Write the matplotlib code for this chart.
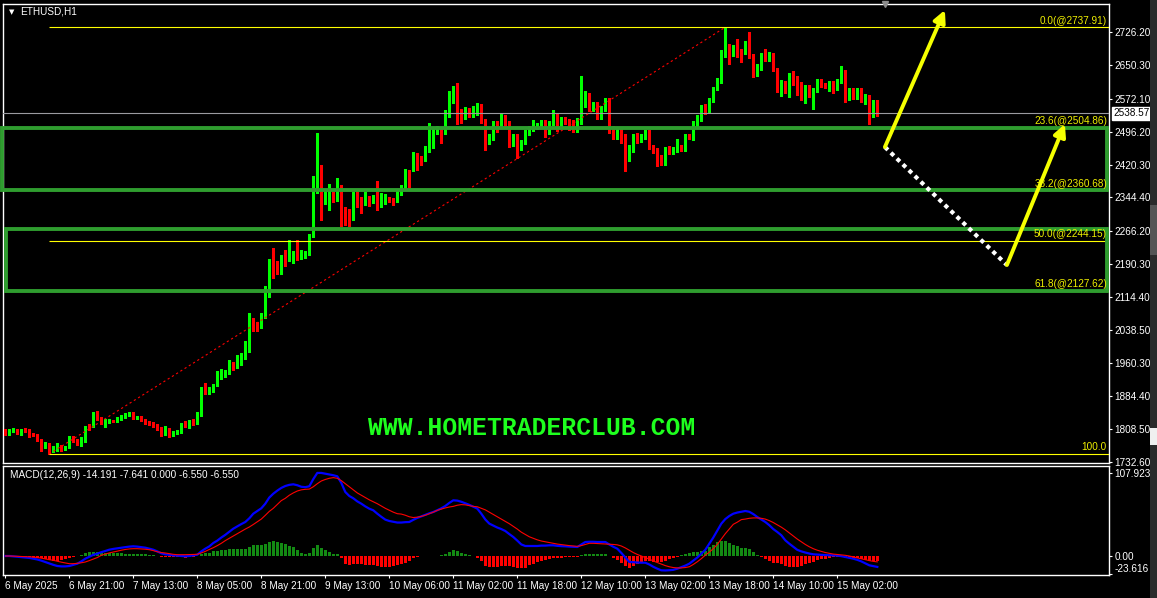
import numpy as np
import matplotlib
matplotlib.use("Agg")
import matplotlib.pyplot as plt
from matplotlib.patches import Rectangle, FancyArrowPatch

plt.rcParams['font.family'] = ['Liberation Sans', 'DejaVu Sans']

# ---------------- ETHUSD H1 price data ----------------
opens = [
    1806, 1799, 1805, 1807, 1797, 1807, 1806, 1799, 1795, 1783,
    1768, 1774, 1757, 1766, 1769, 1761, 1767, 1790, 1782, 1775,
    1780, 1817, 1816, 1843, 1833, 1824, 1824, 1829, 1826, 1832,
    1836, 1840, 1845, 1834, 1837, 1829, 1825, 1822, 1817, 1809,
    1797, 1808, 1795, 1798, 1802, 1824, 1813, 1829, 1822, 1840,
    1901, 1890, 1895, 1909, 1927, 1932, 1938, 1962, 1955, 1959,
    1975, 1989, 2052, 2050, 2045, 2066, 2118, 2184, 2181, 2180,
    2208, 2200, 2206, 2218, 2205, 2214, 2214, 2257, 2362, 2412,
    2339, 2348, 2352, 2338, 2371, 2308, 2304, 2296, 2350, 2341,
    2332, 2338, 2335, 2346, 2325, 2335, 2344, 2340, 2337, 2354,
    2366, 2402, 2408, 2441, 2438, 2431, 2458, 2462, 2495, 2501,
    2493, 2533, 2578, 2586, 2545, 2532, 2545, 2536, 2544, 2557,
    2522, 2474, 2480, 2518, 2510, 2532, 2518, 2468, 2487, 2461,
    2472, 2492, 2503, 2508, 2510, 2520, 2496, 2516, 2533, 2509,
    2524, 2522, 2520, 2499, 2518, 2555, 2582, 2548, 2563, 2528,
    2550, 2559, 2499, 2485, 2500, 2476, 2433, 2460, 2487, 2478,
    2485, 2497, 2463, 2454, 2440, 2424, 2458, 2448, 2453, 2462,
    2456, 2487, 2484, 2512, 2524, 2551, 2543, 2570, 2597, 2611,
    2671, 2693, 2689, 2693, 2682, 2680, 2698, 2672, 2639, 2646,
    2675, 2673, 2675, 2641, 2598, 2611, 2594, 2627, 2613, 2608,
    2583, 2599, 2592, 2591, 2615, 2607, 2598, 2609, 2596, 2613,
    2634, 2577, 2594, 2575, 2595, 2567, 2577, 2532, 2567,
]
highs = [
    1809, 1808, 1811, 1809, 1808, 1810, 1808, 1800, 1797, 1785,
    1778, 1776, 1769, 1777, 1771, 1770, 1791, 1793, 1784, 1790,
    1815, 1819, 1847, 1851, 1835, 1831, 1832, 1830, 1835, 1841,
    1845, 1848, 1847, 1839, 1839, 1831, 1827, 1824, 1819, 1812,
    1816, 1810, 1804, 1807, 1822, 1826, 1830, 1831, 1847, 1906,
    1915, 1905, 1913, 1943, 1946, 1944, 1969, 1964, 1979, 1985,
    2011, 2076, 2066, 2057, 2076, 2140, 2202, 2227, 2196, 2212,
    2222, 2245, 2220, 2245, 2222, 2220, 2260, 2393, 2493, 2420,
    2358, 2376, 2356, 2389, 2374, 2322, 2318, 2356, 2361, 2346,
    2357, 2348, 2350, 2383, 2354, 2352, 2346, 2342, 2358, 2374,
    2410, 2407, 2450, 2446, 2441, 2464, 2516, 2508, 2510, 2505,
    2546, 2590, 2603, 2608, 2549, 2553, 2552, 2556, 2563, 2560,
    2526, 2490, 2522, 2522, 2537, 2536, 2521, 2492, 2490, 2478,
    2500, 2510, 2524, 2517, 2524, 2523, 2520, 2547, 2537, 2530,
    2530, 2526, 2524, 2527, 2626, 2590, 2586, 2566, 2566, 2556,
    2575, 2574, 2510, 2504, 2505, 2490, 2465, 2492, 2493, 2490,
    2500, 2500, 2466, 2458, 2443, 2460, 2462, 2460, 2480, 2465,
    2490, 2490, 2520, 2535, 2557, 2560, 2575, 2600, 2620, 2685,
    2737.91, 2698, 2697, 2710, 2688, 2705, 2726, 2675, 2653, 2678,
    2688, 2680, 2678, 2644, 2616, 2614, 2632, 2637, 2624, 2612,
    2605, 2605, 2597, 2618, 2619, 2608, 2613, 2613, 2618, 2649,
    2638, 2598, 2598, 2598, 2598, 2583, 2580, 2570, 2570,
]
lows = [
    1794, 1795, 1802, 1796, 1795, 1801, 1789, 1792, 1780, 1757,
    1765, 1750.39, 1754, 1758, 1758, 1759, 1765, 1779, 1771, 1768,
    1778, 1807, 1814, 1829, 1821, 1813, 1822, 1825, 1824, 1830,
    1834, 1838, 1831, 1832, 1826, 1820, 1818, 1812, 1805, 1793,
    1795, 1790, 1792, 1796, 1800, 1813, 1810, 1817, 1820, 1838,
    1890, 1889, 1893, 1907, 1925, 1929, 1936, 1944, 1950, 1957,
    1970, 1987, 2035, 2035, 2042, 2064, 2113, 2158, 2167, 2167,
    2185, 2196, 2193, 2200, 2202, 2205, 2211, 2253, 2355, 2292,
    2330, 2315, 2333, 2335, 2277, 2280, 2278, 2292, 2323, 2309,
    2327, 2325, 2332, 2316, 2322, 2330, 2333, 2326, 2334, 2350,
    2363, 2364, 2405, 2408, 2420, 2428, 2450, 2458, 2491, 2470,
    2490, 2530, 2563, 2513, 2516, 2525, 2530, 2530, 2535, 2517,
    2455, 2468, 2476, 2495, 2505, 2510, 2460, 2462, 2435, 2455,
    2468, 2488, 2498, 2503, 2506, 2484, 2492, 2512, 2497, 2505,
    2515, 2500, 2495, 2495, 2515, 2553, 2543, 2543, 2525, 2525,
    2545, 2494, 2480, 2480, 2470, 2406, 2428, 2450, 2470, 2472,
    2480, 2457, 2446, 2416, 2418, 2420, 2444, 2445, 2450, 2452,
    2452, 2480, 2478, 2508, 2520, 2538, 2540, 2566, 2593, 2608,
    2668, 2654, 2671, 2670, 2657, 2675, 2667, 2622, 2624, 2640,
    2660, 2660, 2637, 2588, 2578, 2586, 2577, 2604, 2580, 2570,
    2562, 2576, 2548, 2588, 2600, 2598, 2590, 2585, 2592, 2610,
    2566, 2570, 2572, 2571, 2564, 2560, 2515, 2530, 2533,
]
closes = [
    1797, 1806, 1807, 1797, 1807, 1805, 1799, 1795, 1783, 1768,
    1775, 1756, 1767, 1769, 1761, 1767, 1789, 1781, 1774, 1780,
    1812, 1810, 1845, 1832, 1824, 1827, 1830, 1827, 1833, 1839,
    1843, 1845, 1833, 1837, 1828, 1825, 1822, 1816, 1808, 1797,
    1808, 1795, 1801, 1805, 1820, 1816, 1828, 1820, 1843, 1901,
    1894, 1897, 1911, 1930, 1935, 1942, 1962, 1954, 1961, 1979,
    1990, 2052, 2046, 2043, 2068, 2118, 2188, 2178, 2178, 2209,
    2199, 2207, 2218, 2206, 2213, 2217, 2257, 2362, 2412, 2340,
    2348, 2352, 2338, 2371, 2304, 2300, 2298, 2350, 2338, 2332,
    2342, 2335, 2346, 2325, 2336, 2344, 2340, 2337, 2355, 2369,
    2402, 2381, 2439, 2435, 2431, 2462, 2464, 2497, 2501, 2492,
    2536, 2581, 2586, 2543, 2530, 2545, 2540, 2547, 2557, 2520,
    2474, 2483, 2518, 2510, 2532, 2516, 2468, 2487, 2461, 2474,
    2495, 2505, 2512, 2512, 2520, 2495, 2518, 2533, 2509, 2524,
    2520, 2516, 2499, 2520, 2557, 2582, 2547, 2563, 2528, 2551,
    2559, 2497, 2484, 2500, 2474, 2433, 2461, 2487, 2478, 2487,
    2497, 2461, 2453, 2439, 2424, 2456, 2448, 2456, 2462, 2456,
    2487, 2484, 2515, 2528, 2551, 2543, 2570, 2598, 2613, 2673,
    2693, 2688, 2693, 2679, 2679, 2698, 2670, 2639, 2648, 2675,
    2673, 2676, 2640, 2598, 2611, 2594, 2627, 2613, 2603, 2582,
    2599, 2590, 2594, 2615, 2603, 2602, 2609, 2598, 2613, 2634,
    2577, 2594, 2575, 2594, 2567, 2577, 2532, 2567, 2538.57,
]

# MACD(12,26,9) main and signal lines
macd_main = [
    0, 0, -0.5, -1, -1.5, -2, -2.5, -3.5, -4.5, -6,
    -7.8, -9.5, -11.5, -13, -13.5, -13.5, -13, -11.5, -10, -7,
    -3.5, -1, 1.5, 3, 5, 6.5, 8.2, 9.2, 10, 10.8,
    11.5, 12.2, 12.6, 12.2, 11.5, 10.8, 9.5, 8.2, 6, 3.5,
    2.2, 1.5, 0.9, 0.5, 0.2, -0.4, 0, 0.8, 1.7, 6,
    9.5, 12.5, 16.9, 20, 24, 27.5, 31.5, 35.5, 38.5, 41.5,
    44.2, 49, 55, 58.5, 62, 68, 76, 81, 85, 88.5,
    91, 92.5, 93.2, 92, 90, 89.5, 90.6, 100, 108, 108,
    107, 106, 105, 103.6, 95, 83.2, 78, 75, 71, 68,
    64.5, 61.5, 59.4, 55, 51, 47.3, 45.5, 44.5, 43.5, 43.5,
    44, 44.2, 47, 49.5, 51.5, 53.5, 55.5, 57.2, 59.5, 62,
    65, 69, 72.4, 72, 70.5, 68.5, 66.5, 64, 61.6, 55,
    47.5, 42.1, 39.5, 37, 35, 32.5, 28.5, 24.7, 20, 15,
    13, 13, 13, 13, 13.5, 13.5, 13.9, 13.9, 13.2, 12.8,
    12.6, 12.2, 12, 11.7, 15, 18.2, 18.5, 18.5, 18.2, 18.2,
    18.2, 15, 12, 9.5, 4, -2, -7.8, -8, -8.5, -8.7,
    -8.7, -11, -14, -16.5, -18.6, -18.8, -18.5, -18, -16.5, -14.5,
    -12.5, -10, -6, -2, 3, 8, 16.1, 24, 33, 42,
    48, 52, 55, 56.5, 57.5, 58.5, 57.5, 54.5, 50.7, 47.5,
    44.2, 40, 35, 31.2, 27, 20.4, 16, 12, 8, 6,
    4.5, 3.2, 2.2, 1.8, 1.5, 1.2, 1, 0.9, 0.5, -0.2,
    -1.3, -2.3, -3.5, -5, -7, -9.5, -12.1, -13.2, -14.191,
]
macd_signal = [
    0, 0, -0.2, -0.4, -0.6, -0.8, -1, -1.3, -2, -2.8,
    -3.8, -4.8, -5.6, -6.8, -8, -9, -10, -10, -9.5, -8.8,
    -7.8, -6, -4, -2, 0.9, 2.5, 4, 5.2, 6.5, 7.5,
    8.5, 9.2, 9.5, 9.5, 9.2, 8.8, 8.2, 7, 5.5, 4.5,
    3.9, 3, 2.2, 1.7, 1.7, 1.7, 1.9, 2.1, 2.2, 4,
    6, 8.5, 10.8, 13.5, 16.5, 20, 23, 26, 29, 32,
    35, 37.7, 41, 44.5, 48, 52.9, 58, 62, 67, 72,
    75, 79, 82, 84.5, 86, 86.7, 87, 90, 94, 97.5,
    99.5, 101, 101.9, 101, 98, 94, 90, 86, 82, 79,
    76, 73, 70.5, 68, 65, 62, 59.5, 57, 55, 54.5,
    53, 51, 50, 50.5, 51.5, 53, 55, 57, 59.4, 61,
    62.5, 63.7, 64.5, 66, 66.8, 66.5, 65.5, 64.5, 64, 62,
    60, 57, 54, 51, 48, 45, 42, 38.5, 35, 31,
    28, 25, 23, 21, 19.5, 18.5, 17.5, 16.5, 15.5, 14.8,
    14, 13.5, 13, 12.5, 13.5, 15, 16.5, 16.5, 16.2, 15.8,
    15.5, 15.2, 15, 14.5, 13, 10.5, 7.5, 4.5, 2, 0,
    -2, -4, -6.5, -8.5, -10.5, -12.5, -14, -15, -15.5, -15.5,
    -15, -14, -11, -7.5, -3.5, 1, 5, 9.5, 15, 22,
    29, 35, 41.2, 44, 47.3, 48, 49, 49.5, 49.5, 49,
    48, 46, 43.5, 40.5, 37.5, 34, 30, 26, 22, 18.5,
    15, 12, 9.5, 7.5, 6, 4.5, 3.5, 2.5, 2, 1.5,
    0.9, 0, -1.2, -2.5, -3.5, -4.8, -6, -7, -7.641,
]

# axis labels
price_ticks = [2726.20, 2650.30, 2572.10, 2496.20, 2420.30, 2344.40, 2266.20,
               2190.30, 2114.40, 2038.50, 1960.30, 1884.40, 1808.50, 1732.60]
macd_ticks = [107.923, 0.0, -23.616]
macd_tick_labels = ["107.923", "0.00", "-23.616"]
date_tick_bars = [0, 16, 32, 48, 64, 80, 96, 112, 128, 144, 160, 176, 192, 208]
date_labels = ["6 May 2025", "6 May 21:00", "7 May 13:00", "8 May 05:00",
               "8 May 21:00", "9 May 13:00", "10 May 06:00", "11 May 02:00",
               "11 May 18:00", "12 May 10:00", "13 May 02:00", "13 May 18:00",
               "14 May 10:00", "15 May 02:00"]

# Fibonacci retracement anchors (bar index, price)
fib_bar_low, fib_low = 11, 1750.39
fib_bar_high, fib_high = 180, 2737.91
fib_levels = [0.0, 23.6, 38.2, 50.0, 61.8, 100.0]

# support / resistance zones: (left bar, right bar, low, high)
zones = [(-0.8, 275.5, 2360.68, 2504.86),
         (0.1, 275.5, 2127.62, 2271.0)]

# projected path: (bar, price) pairs
up_arrow_1 = [(219.9, 2460.8), (234.9, 2777.8)]
pullback = [(219.9, 2460.8), (250.4, 2187.7)]
up_arrow_2 = [(250.4, 2187.7), (264.9, 2514.0)]

# ---------------- figure layout ----------------
W, H, DPI = 1157, 598, 100
fig = plt.figure(figsize=(W / DPI, H / DPI), dpi=DPI, facecolor='black')


def axes_px(left, top, right, bottom):
    return fig.add_axes([left / W, 1 - bottom / H, (right - left) / W, (bottom - top) / H])


ax = axes_px(3, 4, 1109, 463)
mx = axes_px(3, 466, 1109, 575)

XMIN, XMAX = -0.575, 275.925
FS = 7.2
for a in (ax, mx):
    a.set_facecolor('black')
    a.set_xlim(XMIN, XMAX)
    for sp in a.spines.values():
        sp.set_color('white')
        sp.set_linewidth(1.0)
ax.set_ylim(1729.6, 2791.7)
mx.set_ylim(-24.7, 117.0)

# ---------------- candles ----------------
o, h, l, c = (np.asarray(v, dtype=float) for v in (opens, highs, lows, closes))
x = np.arange(len(c))
candle_colors = np.where(c >= o, '#00ff00', '#ff0000')
ax.vlines(x, l, h, colors=candle_colors, linewidth=0.75, antialiased=False, zorder=3)
body_low = np.minimum(o, c)
body_h = np.maximum(np.abs(c - o), 1.3)
ax.bar(x, body_h, bottom=body_low, width=0.72, color=candle_colors,
       linewidth=0, antialiased=False, zorder=3)

# bid line
ax.axhline(c[-1], color='#9a9aa0', lw=0.8, zorder=4)

# Fibonacci retracement
fib_prices = [fib_high - (fib_high - fib_low) * lv / 100 for lv in fib_levels]
ax.plot([fib_bar_low, fib_bar_high], [fib_low, fib_high], color='#ff0000',
        lw=0.8, ls=(0, (2.0, 2.5)), zorder=4)
for lv, p in zip(fib_levels, fib_prices):
    ax.hlines(p, fib_bar_low, XMAX, color='#ffff00', lw=0.8, zorder=4)
    text = f"{lv:.1f}" if lv == 100.0 else f"{lv:.1f}(@{p:.2f})"
    ax.annotate(text, (1, p), xycoords=('axes fraction', 'data'),
                xytext=(-1.5, 1.2), textcoords='offset points', ha='right',
                va='bottom', color='#f0f000', fontsize=FS, zorder=6)

# zones
for x0, x1, lo, hi in zones:
    ax.add_patch(Rectangle((x0, lo), x1 - x0, hi - lo, fill=False,
                           ec='#2f9d2f', lw=2.8, zorder=5, clip_on=False))

# projected move
ax.plot(*zip(*pullback), color='white', lw=3.0, ls=(0, (1, 1)),
        dash_capstyle='butt', zorder=7)
for path in (up_arrow_1, up_arrow_2):
    ax.add_patch(FancyArrowPatch(path[0], path[1], arrowstyle='-|>',
                                 mutation_scale=18, color='#f5ff00', lw=2.8,
                                 shrinkA=0, shrinkB=0, zorder=8))

# watermark
ax.text(0.4783, 0.0763, "WWW.HOMETRADERCLUB.COM", transform=ax.transAxes,
        ha='center', va='center', color='#1eff1e', fontsize=17.8,
        fontweight='bold', family=['Liberation Mono', 'DejaVu Sans Mono'], zorder=6)

# price axis
ax.yaxis.tick_right()
ax.set_yticks(price_ticks)
ax.set_yticklabels([f"{v:.2f}" for v in price_ticks])
ax.tick_params(axis='y', colors='white', labelsize=FS, length=2.2, width=0.8,
               pad=1.5, direction='out')
ax.set_xticks([])

# last price tag
ax.annotate(f"{c[-1]:.2f}", xy=(1, c[-1]), xycoords=('axes fraction', 'data'),
            xytext=(3.2, 0), textcoords='offset points', va='center', ha='left',
            fontsize=FS, color='black', annotation_clip=False, zorder=9,
            bbox=dict(boxstyle='square,pad=0.12', fc='white', ec='white'))

# chart shift marker
ax.plot([220], [1.0], marker='v', ms=5, color='#8c8c8c', transform=ax.get_xaxis_transform(),
        clip_on=False, zorder=9)

# ---------------- MACD panel ----------------
m = np.asarray(macd_main, dtype=float)
s = np.asarray(macd_signal, dtype=float)
hist = m - s
hist_colors = np.where(hist >= 0, '#138a13', '#ff0000')
mx.bar(x, hist, width=0.72, color=hist_colors, linewidth=0, antialiased=False, zorder=2)
mx.plot(x, m, color='#0000ff', lw=1.6, zorder=3)
mx.plot(x, s, color='#ff0000', lw=0.8, zorder=4)

mx.yaxis.tick_right()
mx.set_yticks(macd_ticks)
mx.set_yticklabels(macd_tick_labels)
mx.tick_params(axis='y', colors='white', labelsize=FS, length=2.2, width=0.8,
               pad=1.5, direction='out')
mx.get_yticklabels()[2].set_va('bottom')

mx.set_xticks(date_tick_bars)
mx.set_xticklabels(date_labels)
mx.tick_params(axis='x', colors='white', labelsize=FS, length=2.5, width=0.8,
               pad=1.5, direction='out')
for lab in mx.get_xticklabels():
    lab.set_ha('left')

hist_pos = max(hist[-1], 0.0)
hist_neg = min(hist[-1], 0.0)
fig.text(10 / W, 1 - 475 / H,
         f"MACD(12,26,9) {m[-1]:.3f} {s[-1]:.3f} {hist_pos:.3f} {hist_neg:.3f} {hist[-1]:.3f}",
         color='white', fontsize=FS, va='center', ha='left')

# ---------------- title and window chrome ----------------
fig.text(9 / W, 1 - 12 / H, "\u25bc", color='white', fontsize=5,
         va='center', ha='left', family=['DejaVu Sans'])
fig.text(20 / W, 1 - 12 / H, "ETHUSD,H1", color='white', fontsize=FS,
         va='center', ha='left')

fig.patches.append(Rectangle((1150 / W, 0), 7 / W, 1, transform=fig.transFigure,
                             fc='#2b2b2b', ec='none', zorder=0))
fig.patches.append(Rectangle((1150 / W, 1 - 255 / H), 7 / W, 50 / H, transform=fig.transFigure,
                             fc='#555555', ec='none', zorder=1))
fig.patches.append(Rectangle((1150 / W, 1 - 445 / H), 7 / W, 17 / H, transform=fig.transFigure,
                             fc='#f0f0f0', ec='none', zorder=1))

fig.savefig("out.png", dpi=DPI, facecolor='black')
